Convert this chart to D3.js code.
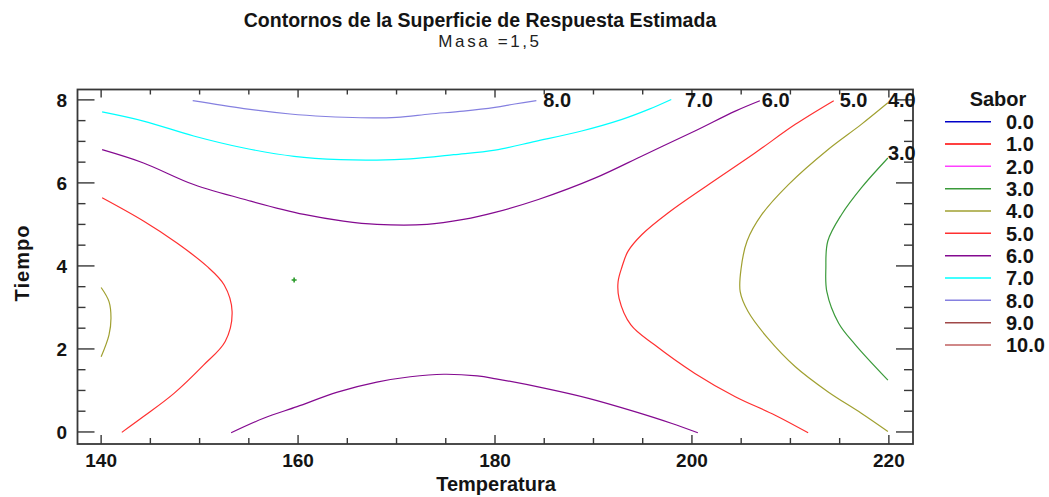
<!DOCTYPE html>
<html>
<head>
<meta charset="utf-8">
<script src="https://cdn.jsdelivr.net/npm/d3@7"></script>
<style>
  html, body { margin: 0; padding: 0; background: #ffffff; }
  svg { display: block; font-family: "Liberation Sans", Arial, sans-serif; }
</style>
</head>
<body>
<svg id="chart" width="1049" height="497"></svg>
<script>
// Contour levels of the fitted response (Sabor) at Masa = 1,5
const levels = [0, 1, 2, 3, 4, 5, 6, 7, 8, 9, 10];
const levelLabels = ["0.0", "1.0", "2.0", "3.0", "4.0", "5.0", "6.0", "7.0", "8.0", "9.0", "10.0"];
const levelColors = ["#0000c8", "#ff0000", "#ff40ff", "#3a9a3a", "#a0a030", "#ff3030",
                     "#840a90", "#00ffff", "#8580e0", "#a04848", "#c06060"];

const xTicks = [140, 160, 180, 200, 220];
const yTicks = [0, 2, 4, 6, 8];

// Contour traces as [Temperatura, Tiempo] pairs
const contour8 = [[149.3, 7.98], [154.5, 7.79], [159.2, 7.66], [162.8, 7.60], [166.3, 7.57],
  [170.0, 7.58], [173.4, 7.66], [176.8, 7.73], [180.0, 7.82], [182.0, 7.90], [184.2, 7.98]];
const contour7 = [[140.1, 7.71], [144.3, 7.49], [149.4, 7.13], [154.5, 6.84], [159.6, 6.64],
  [164.3, 6.56], [168.0, 6.55], [171.4, 6.58], [175.8, 6.68], [180.0, 6.79], [184.1, 7.00],
  [188.8, 7.25], [192.9, 7.53], [195.6, 7.77], [197.9, 8.01]];
const contour6Top = [[140.1, 6.80], [144.3, 6.48], [149.4, 5.96], [155.2, 5.56], [160.6, 5.24],
  [164.6, 5.08], [168.0, 5.00], [173.1, 5.00], [176.8, 5.12], [180.0, 5.29], [184.4, 5.60],
  [190.2, 6.12], [195.2, 6.68], [200.3, 7.25], [204.4, 7.73], [206.9, 7.98]];
const contour6Bottom = [[153.2, -0.02], [156.5, 0.33], [159.9, 0.61], [164.0, 0.96], [168.0, 1.20],
  [171.4, 1.33], [174.8, 1.39], [178.2, 1.35], [180.1, 1.28], [185.1, 1.05], [189.5, 0.81],
  [194.2, 0.49], [197.9, 0.21], [200.6, -0.02]];
const contour5Left = [[140.1, 5.64], [144.3, 5.08], [147.7, 4.55], [150.7, 4.00], [152.5, 3.54],
  [153.3, 2.90], [152.6, 2.18], [150.4, 1.61], [147.4, 0.93], [144.3, 0.37], [142.1, -0.01]];
const contour5Right = [[214.4, 7.98], [210.5, 7.41], [206.4, 6.72], [201.7, 5.96], [197.6, 5.28],
  [194.9, 4.75], [193.5, 4.35], [192.9, 3.98], [192.5, 3.62], [192.6, 3.22], [193.8, 2.58],
  [196.2, 2.10], [200.3, 1.41], [204.4, 0.85], [208.4, 0.41], [211.8, -0.02]];
const contour4Left = [[140.0, 3.48], [140.8, 3.14], [141.0, 2.74], [140.8, 2.34], [140.0, 1.81]];
const contour4Right = [[219.9, 7.93], [217.2, 7.41], [213.8, 6.80], [209.8, 5.96], [207.1, 5.24],
  [205.6, 4.60], [205.0, 3.95], [204.9, 3.38], [205.7, 2.90], [207.7, 2.26], [210.5, 1.57],
  [213.8, 0.97], [217.2, 0.45], [219.9, 0.01]];
const contour3 = [[219.9, 6.60], [217.2, 5.88], [215.2, 5.24], [213.8, 4.60], [213.6, 3.95],
  [213.7, 3.38], [214.9, 2.62], [216.6, 2.10], [219.9, 1.25]];

const contourLines = [
  { level: 8, pts: contour8 }, { level: 7, pts: contour7 },
  { level: 6, pts: contour6Top }, { level: 6, pts: contour6Bottom },
  { level: 5, pts: contour5Left }, { level: 5, pts: contour5Right },
  { level: 4, pts: contour4Left }, { level: 4, pts: contour4Right },
  { level: 3, pts: contour3 }
];

// In-plot level labels: [level, Temperatura, Tiempo]
const contourLabels = [[8, 184.9, 8.0], [7, 199.3, 8.0], [6, 207.1, 8.0],
                       [5, 215.0, 8.0], [4, 219.9, 8.0], [3, 219.9, 6.72]];

// Design center point
const centerPoint = [159.6, 3.66];

const svg = d3.select("#chart");

const x = d3.scaleLinear().domain([137.6, 222.45]).range([77.5, 913]);
const y = d3.scaleLinear().domain([-0.29, 8.25]).range([444, 89.5]);

const color = d3.scaleOrdinal().domain(levels).range(levelColors);
const labelOf = d3.scaleOrdinal().domain(levels).range(levelLabels);

const ink = "#141414";

// Title
svg.append("text").attr("x", 480).attr("y", 27).attr("text-anchor", "middle")
  .attr("font-size", 19.5).attr("font-weight", "bold").attr("fill", ink)
  .text("Contornos de la Superficie de Respuesta Estimada");
svg.append("text").attr("x", 490).attr("y", 47).attr("text-anchor", "middle")
  .attr("font-size", 17).attr("fill", "#222").attr("letter-spacing", 2.6)
  .text("Masa =1,5");

// Contour lines
const line = d3.line()
  .x(d => x(d[0])).y(d => y(d[1]))
  .curve(d3.curveCatmullRom.alpha(0.5));

const plot = svg.append("g");
plot.selectAll("path.contour").data(contourLines).join("path")
  .attr("class", "contour")
  .attr("d", d => line(d.pts))
  .attr("fill", "none")
  .attr("stroke", d => color(d.level))
  .attr("stroke-width", 1.2);

// Center point marker
const cp = plot.append("g").attr("transform", `translate(${x(centerPoint[0])},${y(centerPoint[1])})`);
cp.append("path").attr("d", "M-2.5,0H2.5M0,-2.5V2.5").attr("stroke", "#2a9a2a").attr("stroke-width", 1.6);

// Frame and ticks
const [x0, x1] = x.range();
const [y0, y1] = y.range();
const axisColor = "#383838";
svg.append("rect").attr("x", x0).attr("y", y1).attr("width", x1 - x0).attr("height", y0 - y1)
  .attr("fill", "none").attr("stroke", axisColor).attr("stroke-width", 1.8);

const xMinor = d3.range(140, 220.1, 5);
const yMinor = d3.range(0, 8.01, 0.5);
const tickG = svg.append("g").attr("stroke", axisColor).attr("stroke-width", 1.4);
xMinor.forEach(v => {
  const major = xTicks.includes(v);
  const px = x(v);
  tickG.append("line").attr("x1", px).attr("x2", px).attr("y1", y0).attr("y2", y0 - (major ? 9 : 6));
  tickG.append("line").attr("x1", px).attr("x2", px).attr("y1", y1).attr("y2", y1 + (major ? 8 : 5));
});
yMinor.forEach(v => {
  const major = yTicks.includes(v);
  const py = y(v);
  tickG.append("line").attr("x1", x0).attr("x2", x0 + (major ? 17 : 8)).attr("y1", py).attr("y2", py);
  tickG.append("line").attr("x1", x1).attr("x2", x1 - (major ? 17 : 9)).attr("y1", py).attr("y2", py);
});

// Tick labels
svg.append("g").selectAll("text").data(xTicks).join("text")
  .attr("x", d => x(d)).attr("y", 467).attr("text-anchor", "middle")
  .attr("font-size", 19).attr("font-weight", "bold").attr("fill", ink)
  .text(d => d);
svg.append("g").selectAll("text").data(yTicks).join("text")
  .attr("x", 67).attr("y", d => y(d)).attr("dy", "0.36em").attr("text-anchor", "end")
  .attr("font-size", 19).attr("font-weight", "bold").attr("fill", ink)
  .text(d => d);

// Axis titles
svg.append("text").attr("x", 496).attr("y", 491).attr("text-anchor", "middle")
  .attr("font-size", 20).attr("font-weight", "bold").attr("fill", ink)
  .text("Temperatura");
svg.append("text").attr("transform", "translate(29,263) rotate(-90)").attr("text-anchor", "middle")
  .attr("font-size", 20).attr("font-weight", "bold").attr("fill", ink)
  .attr("letter-spacing", 1)
  .text("Tiempo");

// In-plot contour labels
svg.append("g").selectAll("text").data(contourLabels).join("text")
  .attr("x", d => x(d[1])).attr("y", d => y(d[2])).attr("dy", "0.36em")
  .attr("font-size", 20).attr("font-weight", "bold").attr("fill", ink)
  .text(d => labelOf(d[0]));

// Legend
const legend = svg.append("g");
legend.append("text").attr("x", 998).attr("y", 106).attr("text-anchor", "middle")
  .attr("font-size", 20).attr("font-weight", "bold").attr("fill", ink).text("Sabor");
const rows = legend.selectAll("g.row").data(levels).join("g").attr("class", "row")
  .attr("transform", (d, i) => `translate(0,${121.7 + i * 22.33})`);
rows.append("line").attr("x1", 945).attr("x2", 991).attr("y1", 0).attr("y2", 0)
  .attr("stroke", d => color(d)).attr("stroke-width", 1.5);
rows.append("text").attr("x", 1006).attr("y", 0).attr("dy", "0.36em")
  .attr("font-size", 20).attr("font-weight", "bold").attr("fill", ink)
  .text(d => labelOf(d));
</script>
</body>
</html>
